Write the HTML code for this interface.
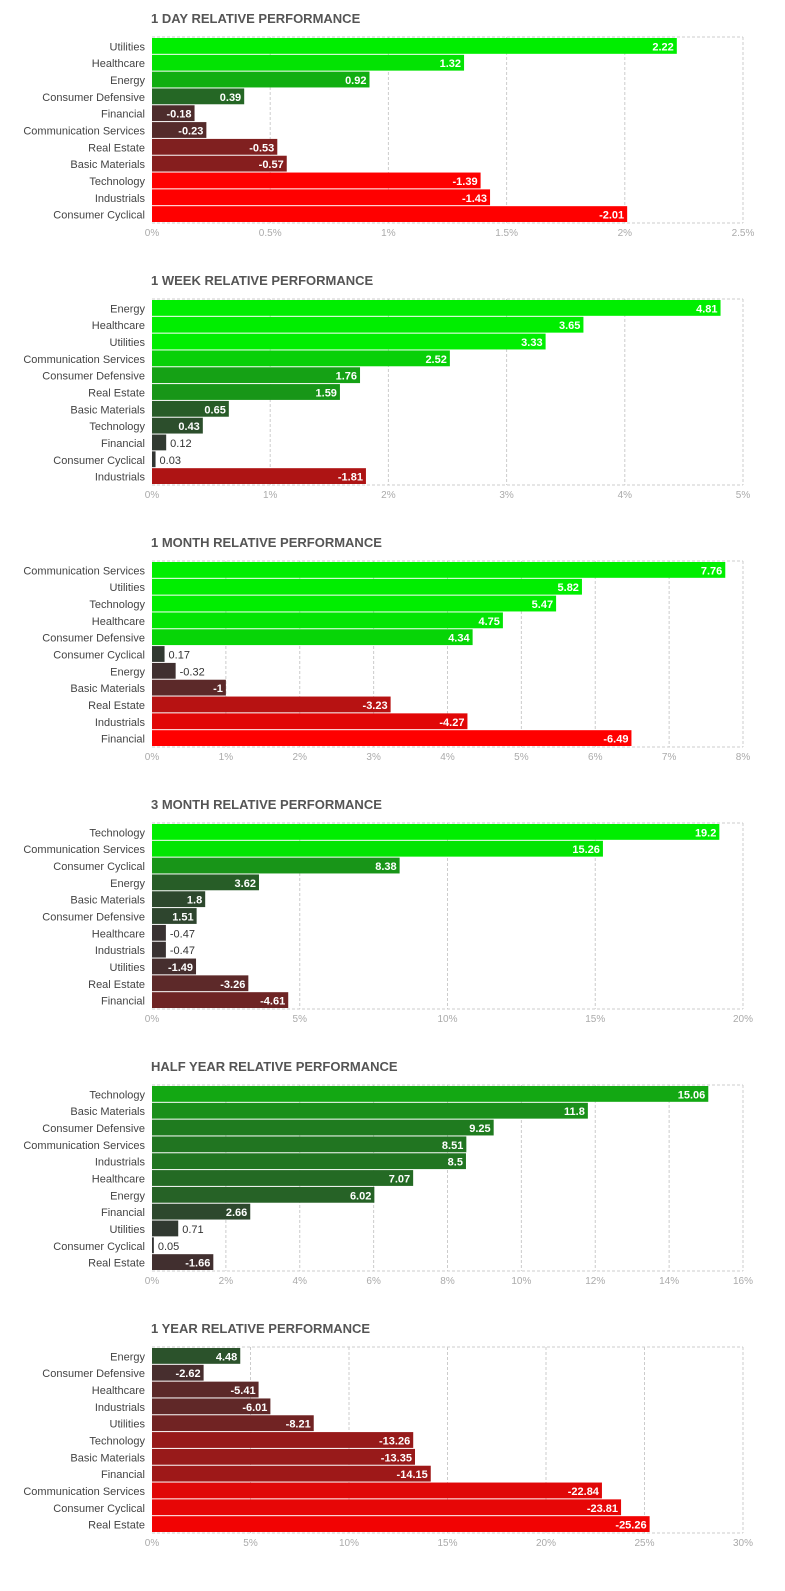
<!DOCTYPE html>
<html><head><meta charset="utf-8"><style>
body{margin:0;background:#fff;width:785px;height:1591px;overflow:hidden}
svg{display:block;font-family:"Liberation Sans",sans-serif}
</style></head><body>
<svg id="chart" width="785" height="1591" xmlns="http://www.w3.org/2000/svg"></svg>
<script>
const titles=["1 DAY RELATIVE PERFORMANCE","1 WEEK RELATIVE PERFORMANCE","1 MONTH RELATIVE PERFORMANCE","3 MONTH RELATIVE PERFORMANCE","HALF YEAR RELATIVE PERFORMANCE","1 YEAR RELATIVE PERFORMANCE"];
const cats1d=["Utilities","Healthcare","Energy","Consumer Defensive","Financial","Communication Services","Real Estate","Basic Materials","Technology","Industrials","Consumer Cyclical"];
const vals1d=[2.22,1.32,0.92,0.39,-0.18,-0.23,-0.53,-0.57,-1.39,-1.43,-2.01];
const cats1w=["Energy","Healthcare","Utilities","Communication Services","Consumer Defensive","Real Estate","Basic Materials","Technology","Financial","Consumer Cyclical","Industrials"];
const vals1w=[4.81,3.65,3.33,2.52,1.76,1.59,0.65,0.43,0.12,0.03,-1.81];
const cats1m=["Communication Services","Utilities","Technology","Healthcare","Consumer Defensive","Consumer Cyclical","Energy","Basic Materials","Real Estate","Industrials","Financial"];
const vals1m=[7.76,5.82,5.47,4.75,4.34,0.17,-0.32,-1,-3.23,-4.27,-6.49];
const cats3m=["Technology","Communication Services","Consumer Cyclical","Energy","Basic Materials","Consumer Defensive","Healthcare","Industrials","Utilities","Real Estate","Financial"];
const vals3m=[19.2,15.26,8.38,3.62,1.8,1.51,-0.47,-0.47,-1.49,-3.26,-4.61];
const catsHy=["Technology","Basic Materials","Consumer Defensive","Communication Services","Industrials","Healthcare","Energy","Financial","Utilities","Consumer Cyclical","Real Estate"];
const valsHy=[15.06,11.8,9.25,8.51,8.5,7.07,6.02,2.66,0.71,0.05,-1.66];
const cats1y=["Energy","Consumer Defensive","Healthcare","Industrials","Utilities","Technology","Basic Materials","Financial","Communication Services","Consumer Cyclical","Real Estate"];
const vals1y=[4.48,-2.62,-5.41,-6.01,-8.21,-13.26,-13.35,-14.15,-22.84,-23.81,-25.26];
const ticks1d=["0%","0.5%","1%","1.5%","2%","2.5%"];
const ticks1w=["0%","1%","2%","3%","4%","5%"];
const ticks1m=["0%","1%","2%","3%","4%","5%","6%","7%","8%"];
const ticks3m=["0%","5%","10%","15%","20%"];
const ticksHy=["0%","2%","4%","6%","8%","10%","12%","14%","16%"];
const ticks1y=["0%","5%","10%","15%","20%","25%","30%"];
const maxes=[2.5,5,8,20,16,30];
const sats=[1.4,3,5,16,24,27];
const allCats=[cats1d,cats1w,cats1m,cats3m,catsHy,cats1y];
const allVals=[vals1d,vals1w,vals1m,vals3m,valsHy,vals1y];
const allTicks=[ticks1d,ticks1w,ticks1m,ticks3m,ticksHy,ticks1y];
const NS="http://www.w3.org/2000/svg";
const svg=document.getElementById('chart');
function mk(tag,attrs,parent){const e=document.createElementNS(NS,tag);for(const k in attrs)e.setAttribute(k,attrs[k]);parent.appendChild(e);return e;}
function color(v,s){let t=Math.min(1,Math.abs(v)/s);
  if(v>=0){return `rgb(${Math.round(51*(1-t))},${Math.round(51+187*t)},${Math.round(51*(1-t))})`;}
  return `rgb(${Math.round(51+204*t)},${Math.round(51*(1-t))},${Math.round(51*(1-t))})`;}
const X0=152,X1=743;
for(let c=0;c<6;c++){
  const oy=c*262;
  const g=mk('g',{},svg);
  
  
  const t=mk('text',{x:151,y:oy+23,'font-size':13,'font-weight':'bold',fill:'#555'},g);
  t.textContent=titles[c];
  
  
  const top=oy+37,bot=oy+223;
  const xs=v=>X0+(X1-X0)*v/maxes[c];
  const ticks=allTicks[c];
  const step=maxes[c]/(ticks.length-1);
  for(let i=0;i<ticks.length;i++){
    const x=xs(step*i);
    if(i>0){const l=mk('line',{x1:x,x2:x,y1:top,y2:bot,stroke:'#ccc','stroke-dasharray':'3,2'},g);
      }
    const tl=mk('text',{x:x,y:oy+236,'font-size':10,fill:'#aaa','text-anchor':'middle'},g);
    tl.textContent=ticks[i];
    
    
  }
  mk('line',{x1:X0,x2:X1,y1:top,y2:top,stroke:'#ccc','stroke-dasharray':'3,2'},g);
  mk('line',{x1:X0,x2:X1,y1:bot,y2:bot,stroke:'#ccc','stroke-dasharray':'3,2'},g);
  const cats=allCats[c],vals=allVals[c];
  const rh=(bot-top-1)/cats.length;
  for(let i=0;i<cats.length;i++){
    const y=top+1+i*rh, v=vals[i];
    const lab=mk('text',{x:145,y:y+rh/2+4,'font-size':11,fill:'#444','text-anchor':'end'},g);
    lab.textContent=cats[i];
    
    
    const w=xs(Math.abs(v))-X0;
    const r=mk('rect',{x:X0,y:y,width:Math.max(w,1),height:rh-1,fill:color(v,sats[c])},g);
    
    
    const vt=mk('text',{y:y+rh/2+4,'font-size':11,'font-weight':'bold'},g);
    vt.textContent=String(v);
    if(w>38){vt.setAttribute('x',X0+w-3);vt.setAttribute('text-anchor','end');vt.setAttribute('fill','#fff');}
    else{vt.setAttribute('x',X0+w+4);vt.setAttribute('fill','#333');vt.setAttribute('font-weight','normal');}
    
    
  }
}
</script>
</body></html>
